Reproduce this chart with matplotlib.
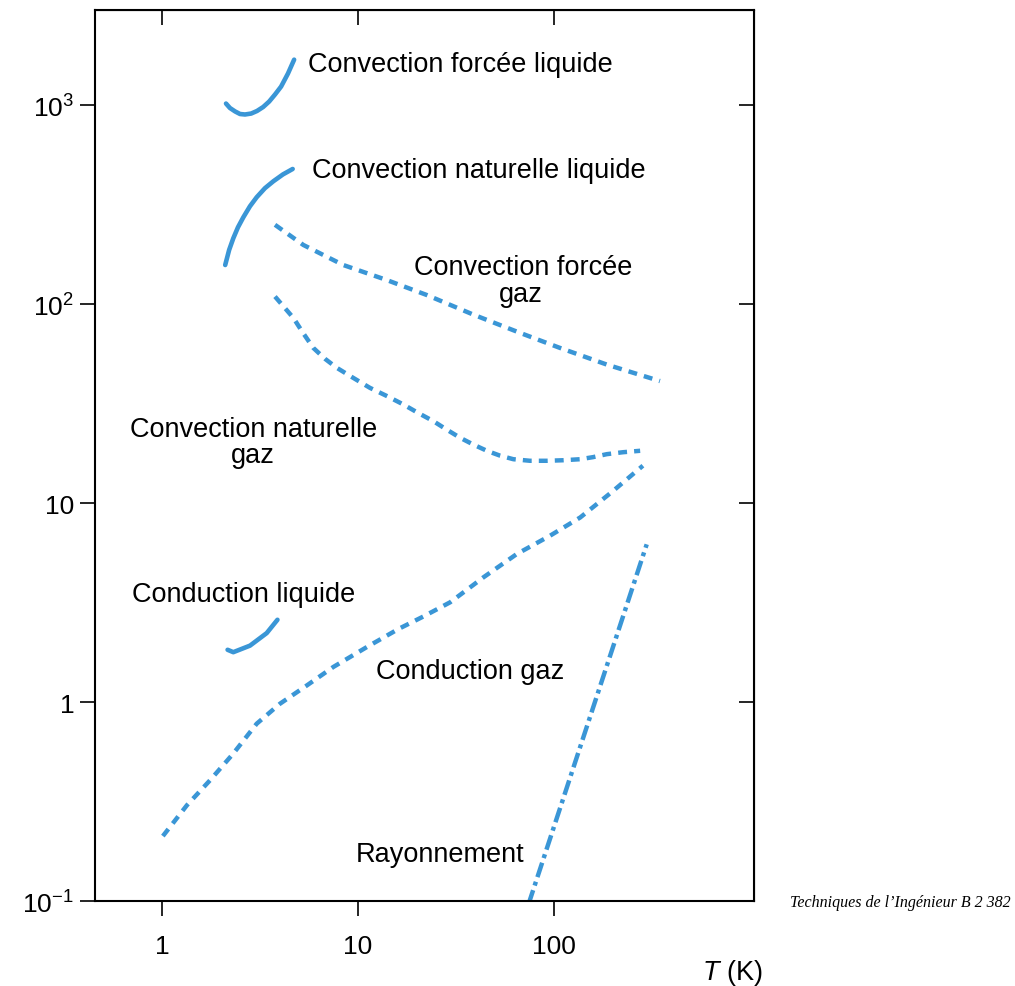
import matplotlib
matplotlib.use("Agg")
import matplotlib.pyplot as plt
from matplotlib.ticker import FixedLocator, FixedFormatter, NullLocator

plt.rcParams['font.family'] = ['Liberation Sans', 'DejaVu Sans']
plt.rcParams['mathtext.fontset'] = 'custom'
plt.rcParams['mathtext.rm'] = 'Liberation Sans'
plt.rcParams['mathtext.it'] = 'Liberation Sans:italic'

BLUE = '#3a96d6'

# Values: temperature T (K) and coefficient h
cfl_T = [2.12, 2.22, 2.36, 2.50, 2.65, 2.85, 3.05, 3.28, 3.52, 3.77, 4.05, 4.39, 4.72]
cfl_h = [1017, 966, 928, 901, 896, 906, 933, 977, 1041, 1129, 1238, 1439, 1690]

cnl_T = [2.10, 2.20, 2.31, 2.44, 2.60, 2.81, 3.04, 3.35, 3.70, 4.14, 4.64]
cnl_h = [157, 187, 214, 243, 273, 310, 344, 382, 414, 448, 477]

cfg_T = [3.77, 5.26, 8.41, 14.0, 22.4, 38.8, 67.1, 107, 186, 347]
cfg_h = [250, 198, 157, 132, 111, 88.4, 71.6, 60.2, 49.6, 41.0]

cng_T = [3.77, 4.19, 4.68, 5.24, 5.91, 6.79, 7.79, 9.43, 11.5, 14.1, 17.0, 20.2, 24.2, 28.1,
         33.1, 38.6, 45.4, 53.0, 62.0, 75.4, 91.8, 111, 136, 158, 186, 225, 275]
cng_h = [109, 96.6, 85.1, 71.6, 60.2, 53.0, 47.8, 42.6, 37.9, 34.4, 31.3, 28.4, 25.8, 23.5,
         21.3, 19.7, 18.3, 17.3, 16.6, 16.3, 16.3, 16.4, 16.6, 17.0, 17.6, 18.0, 18.3]

cl_T = [2.16, 2.31, 2.81, 3.42, 3.88]
cl_h = [1.83, 1.78, 1.92, 2.22, 2.59]

cg_T = [1.01, 1.34, 1.76, 2.31, 3.04, 4.0, 5.47, 7.48, 11.1, 16.1, 21.7, 29.5, 35.6, 43.6,
        64.5, 95.4, 136, 198, 284]
cg_h = [0.212, 0.303, 0.405, 0.551, 0.778, 0.981, 1.21, 1.50, 1.89, 2.33, 2.70, 3.17, 3.64, 4.23,
        5.54, 6.85, 8.46, 11.4, 15.4]

ray_T = [74, 297]
ray_h = [0.096, 6.2]

yticks = [0.1, 1, 10, 100, 1000]
ytick_labels = ['$10^{-1}$', '1', '10', '$10^{2}$', '$10^{3}$']
xticks = [1, 10, 100]
xtick_labels = ['1', '10', '100']

fig = plt.figure(figsize=(10.15, 9.87), dpi=100)
ax = fig.add_axes([0.0936, 0.0861, 0.6493, 0.9027])
ax.set_xscale('log')
ax.set_yscale('log')

solid = dict(color=BLUE, lw=3.3, solid_capstyle='round', solid_joinstyle='round')
dotted = dict(color=BLUE, lw=3.2, ls=(0, (2.0, 1.6)))

ax.plot(cfl_T, cfl_h, **solid)
ax.plot(cnl_T, cnl_h, **solid)
ax.plot(cl_T, cl_h, **solid)
ax.plot(cfg_T, cfg_h, **dotted)
ax.plot(cng_T, cng_h, **dotted)
ax.plot(cg_T, cg_h, **dotted)
ax.plot(ray_T, ray_h, color=BLUE, lw=3.2, ls=(0, (3.4, 1.1, 0.9, 1.1)))

ax.set_xlim(0.455, 1048)
ax.set_ylim(0.1, 3000)

for s in ax.spines.values():
    s.set_linewidth(1.5)

ax.xaxis.set_major_locator(FixedLocator(xticks))
ax.xaxis.set_major_formatter(FixedFormatter(xtick_labels))
ax.xaxis.set_minor_locator(NullLocator())
ax.yaxis.set_major_locator(FixedLocator(yticks))
ax.yaxis.set_major_formatter(FixedFormatter(ytick_labels))
ax.yaxis.set_minor_locator(NullLocator())
ax.tick_params(axis='x', direction='out', length=11, width=1.2, pad=13, labelsize=19)
ax.tick_params(axis='y', direction='out', length=11, width=1.2, pad=4, labelsize=19)

top = ax.secondary_xaxis('top')
top.xaxis.set_major_locator(FixedLocator(xticks))
top.xaxis.set_minor_locator(NullLocator())
top.tick_params(direction='in', length=11, width=1.2, labeltop=False)
right = ax.secondary_yaxis('right')
right.yaxis.set_major_locator(FixedLocator(yticks[1:]))
right.yaxis.set_minor_locator(NullLocator())
right.tick_params(direction='in', length=11, width=1.2, labelright=False)

fs = 19.5
t = ax.transAxes
ax.text(0.3237, 0.9315, 'Convection forcée liquide', transform=t, fontsize=fs, va='baseline')
ax.text(0.3288, 0.8126, 'Convection naturelle liquide', transform=t, fontsize=fs, va='baseline')
ax.text(0.6495, 0.7037, 'Convection forcée', transform=t, fontsize=fs, va='baseline', ha='center')
ax.text(0.6464, 0.6734, 'gaz', transform=t, fontsize=fs, va='baseline', ha='center')
ax.text(0.2413, 0.5219, 'Convection naturelle', transform=t, fontsize=fs, va='baseline', ha='center')
ax.text(0.2398, 0.4927, 'gaz', transform=t, fontsize=fs, va='baseline', ha='center')
ax.text(0.0566, 0.337, 'Conduction liquide', transform=t, fontsize=fs, va='baseline')
ax.text(0.4264, 0.2503, 'Conduction gaz', transform=t, fontsize=fs, va='baseline')
ax.text(0.396, 0.0449, 'Rayonnement', transform=t, fontsize=fs, va='baseline')

fig.text(0.721, 0.0071, '$T$ (K)', fontsize=fs, ha='center', va='baseline')
fig.text(0.7783, 0.081, 'Techniques de l’Ingénieur B 2 382', fontsize=11.5,
         family='Liberation Serif', style='italic', va='baseline')

fig.savefig('out.png', dpi=100)
